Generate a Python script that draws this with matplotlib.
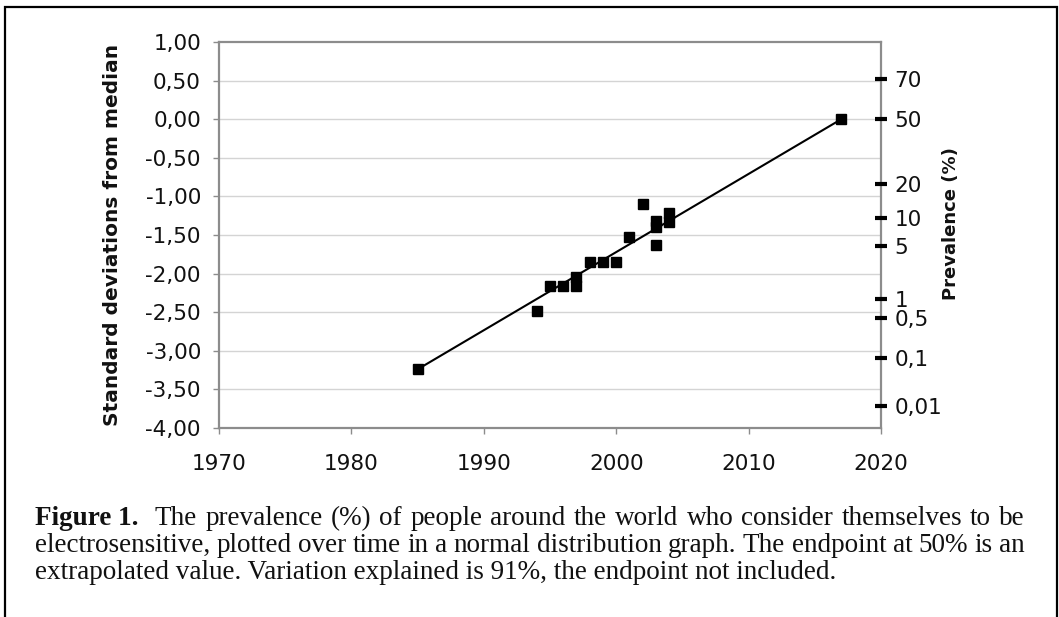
import matplotlib
matplotlib.use("Agg")
import matplotlib.pyplot as plt
from matplotlib.patches import Rectangle
from statistics import NormalDist

# ---- data ----
years = [1985, 1994, 1995, 1996, 1997, 1997, 1998, 1999, 2000, 2001, 2002, 2003, 2003, 2003, 2004, 2004]
sd_values = [-3.24, -2.49, -2.16, -2.16, -2.16, -2.04, -1.85, -1.85, -1.85, -1.53, -1.10, -1.32, -1.39, -1.63, -1.22, -1.33]
endpoint_year = [2017]
endpoint_sd = [0.0]
trend_years = [1985, 2017]
trend_sd = [-3.24, 0.0]

left_ticks = [1.0, 0.5, 0.0, -0.5, -1.0, -1.5, -2.0, -2.5, -3.0, -3.5, -4.0]
left_labels = ["1,00", "0,50", "0,00", "-0,50", "-1,00", "-1,50", "-2,00", "-2,50", "-3,00", "-3,50", "-4,00"]
x_ticks = [1970, 1980, 1990, 2000, 2010, 2020]
prev_pct = [70, 50, 20, 10, 5, 1, 0.5, 0.1, 0.01]
prev_labels = ["70", "50", "20", "10", "5", "1", "0,5", "0,1", "0,01"]

caption_lines = [
    ["Figure 1.", "The", "prevalence", "(%)", "of", "people", "around", "the", "world", "who",
     "consider", "themselves", "to", "be"],
    ["electrosensitive,", "plotted", "over", "time", "in", "a", "normal", "distribution", "graph.",
     "The", "endpoint", "at", "50%", "is", "an"],
]
caption_last = "extrapolated value. Variation explained is 91%, the endpoint not included."

W, H = 1059, 617
fig = plt.figure(figsize=(W / 100, H / 100), dpi=100)
fig.patch.set_facecolor("white")

ax = fig.add_axes([219 / W, 1 - 428 / H, (881 - 219) / W, (428 - 42) / H])
ax.set_xlim(1970, 2020)
ax.set_ylim(-4.0, 1.0)

gray = "#8c8c8c"
for s in ax.spines.values():
    s.set_color(gray)
    s.set_linewidth(1.6)

for t in left_ticks[1:-1]:
    ax.axhline(t, color="#d4d4d4", lw=1.0, zorder=0)

ax.plot(trend_years, trend_sd, color="black", lw=1.5, zorder=2)
ax.plot(years, sd_values, ls="none", marker="s", ms=7, color="black", zorder=3)
ax.plot(endpoint_year, endpoint_sd, ls="none", marker="s", ms=7, color="black", zorder=3)

tickfont = dict(family="DejaVu Sans", size=15.5)
ax.set_yticks(left_ticks)
ax.set_yticklabels(left_labels, **tickfont)
ax.set_xticks(x_ticks)
ax.set_xticklabels([str(v) for v in x_ticks], **tickfont)
ax.tick_params(axis="y", direction="out", length=4, width=1, color=gray, pad=9, labelcolor="#111111")
ax.tick_params(axis="x", direction="out", length=4, width=1, color=gray, pad=15, labelcolor="#111111")

ax2 = ax.twinx()
ax2.set_ylim(-4.0, 1.0)
for s in ax2.spines.values():
    s.set_visible(False)
z = [NormalDist().inv_cdf(p / 100) for p in prev_pct]
ax2.set_yticks(z)
ax2.set_yticklabels(prev_labels, **tickfont)
ax2.tick_params(axis="y", direction="inout", length=9, width=3, color="black", pad=5, labelcolor="#111111")

fig.text(113 / W, 1 - 235 / H, "Standard deviations from median", rotation=90, ha="center",
         va="center", fontsize=14.5, fontweight="bold", family="DejaVu Sans", color="#111111")
fig.text(951 / W, 1 - 224 / H, "Prevalence (%)", rotation=90, ha="center", va="center",
         fontsize=13, fontweight="bold", family="DejaVu Sans", color="#111111")

# border
fig.patches.append(Rectangle((5 / W, -0.05), (1057 - 5) / W, 1.05 - 7 / H, transform=fig.transFigure,
                             fill=False, edgecolor="black", lw=1.6))

# caption with justification
renderer = fig.canvas.get_renderer()
cap_font = dict(family="Liberation Serif", size=19.5, color="#111111")
x0, x1 = 35, 1025
baselines = [525, 552, 579]
for li, words in enumerate(caption_lines):
    texts = []
    widths = []
    for wi, w in enumerate(words):
        bold = (li == 0 and wi == 0)
        t = fig.text(0, 1 - baselines[li] / H, w, ha="left", va="baseline",
                     fontweight="bold" if bold else "normal", **cap_font)
        bb = t.get_window_extent(renderer)
        texts.append(t)
        widths.append(bb.width)
    weights = [2.0 if (li == 0 and i == 0) else 1.0 for i in range(len(words) - 1)]
    gap_unit = (x1 - x0 - sum(widths)) / sum(weights)
    x = x0
    for i, t in enumerate(texts):
        t.set_x(x / W)
        if i < len(weights):
            x += widths[i] + gap_unit * weights[i]
fig.text(x0 / W, 1 - baselines[2] / H, caption_last, ha="left", va="baseline", **cap_font)

fig.savefig("out.png", dpi=100, facecolor="white")
